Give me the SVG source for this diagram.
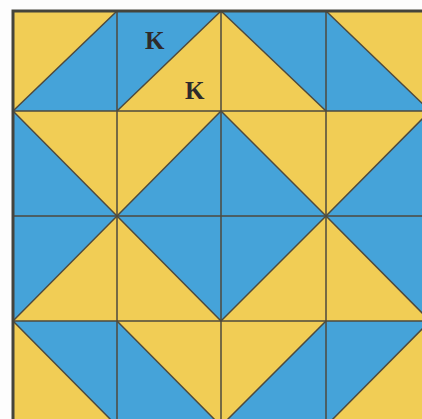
<svg xmlns="http://www.w3.org/2000/svg" width="422" height="419" viewBox="0 0 422 419">
<style>
.y{fill:#f1cd55}
.b{fill:#45a3d9}
.ln{stroke:#4e4a3e;stroke-width:1.5;fill:none}
.bd{stroke:#44443c;stroke-width:3;fill:none}
.k{font-family:"Liberation Serif","DejaVu Serif",serif;font-weight:bold;font-size:25px;fill:#2e2a2a}
</style>
<rect x="0" y="0" width="422" height="419" fill="#fdfdfd"/>
<!-- row 0 -->
<g id="c00"><polygon class="y" points="13,11 117,11 13,111"/><polygon class="b" points="117,11 117,111 13,111"/></g>
<g id="c01"><polygon class="b" points="117,11 221,11 117,111"/><polygon class="y" points="221,11 221,111 117,111"/></g>
<g id="c02"><polygon class="y" points="221,11 326,111 221,111"/><polygon class="b" points="221,11 326,11 326,111"/></g>
<g id="c03"><polygon class="b" points="326,11 430,111 326,111"/><polygon class="y" points="326,11 430,11 430,111"/></g>
<!-- row 1 -->
<g id="c10"><polygon class="b" points="13,111 117,216 13,216"/><polygon class="y" points="13,111 117,111 117,216"/></g>
<g id="c11"><polygon class="y" points="117,111 221,111 117,216"/><polygon class="b" points="221,111 221,216 117,216"/></g>
<g id="c12"><polygon class="b" points="221,111 326,216 221,216"/><polygon class="y" points="221,111 326,111 326,216"/></g>
<g id="c13"><polygon class="y" points="326,111 430,111 326,216"/><polygon class="b" points="430,111 430,216 326,216"/></g>
<!-- row 2 -->
<g id="c20"><polygon class="b" points="13,216 117,216 13,321"/><polygon class="y" points="117,216 117,321 13,321"/></g>
<g id="c21"><polygon class="y" points="117,216 221,321 117,321"/><polygon class="b" points="117,216 221,216 221,321"/></g>
<g id="c22"><polygon class="b" points="221,216 326,216 221,321"/><polygon class="y" points="326,216 326,321 221,321"/></g>
<g id="c23"><polygon class="y" points="326,216 430,321 326,321"/><polygon class="b" points="326,216 430,216 430,321"/></g>
<!-- row 3 -->
<g id="c30"><polygon class="y" points="13,321 117,426 13,426"/><polygon class="b" points="13,321 117,321 117,426"/></g>
<g id="c31"><polygon class="b" points="117,321 221,426 117,426"/><polygon class="y" points="117,321 221,321 221,426"/></g>
<g id="c32"><polygon class="y" points="221,321 326,321 221,426"/><polygon class="b" points="326,321 326,426 221,426"/></g>
<g id="c33"><polygon class="b" points="326,321 430,321 326,426"/><polygon class="y" points="430,321 430,426 326,426"/></g>
<g id="lines">
<path class="ln" d="M117,11V426M221,11V426M326,11V426M13,111H430M13,216H430M13,321H430"/>
<path class="ln" d="M13,111L117,11M117,111L221,11M221,11L326,111M326,11L430,111
M13,111L117,216M117,216L221,111M221,111L326,216M326,216L430,111
M13,321L117,216M117,216L221,321M221,321L326,216M326,216L430,321
M13,321L117,426M117,321L221,426M221,426L326,321M326,426L430,321"/>
<path class="bd" d="M13,426V11H430"/>
</g>
<text class="k" x="145" y="49">K</text>
<text class="k" x="185" y="99">K</text>
</svg>
